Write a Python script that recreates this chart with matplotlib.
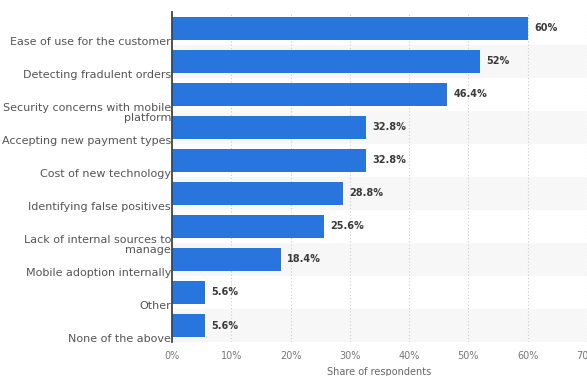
import matplotlib.pyplot as plt
import matplotlib.transforms as mtransforms

categories = [
    "Ease of use for the customer",
    "Detecting fradulent orders",
    "Security concerns with mobile\nplatform",
    "Accepting new payment types",
    "Cost of new technology",
    "Identifying false positives",
    "Lack of internal sources to\nmanage",
    "Mobile adoption internally",
    "Other",
    "None of the above",
]
values = [60, 52, 46.4, 32.8, 32.8, 28.8, 25.6, 18.4, 5.6, 5.6]
value_labels = ["60%", "52%", "46.4%", "32.8%", "32.8%", "28.8%", "25.6%", "18.4%", "5.6%", "5.6%"]
x_ticks = [0, 10, 20, 30, 40, 50, 60, 70]

fig = plt.figure(figsize=(5.87, 3.76), dpi=100)
ax = fig.add_axes([0.293, 0.0904, 0.707, 0.878])

bar_color = '#2876dd'
ypos = list(range(len(categories)))

# alternating row stripes
for i in ypos:
    if i % 2 == 1:
        ax.axhspan(i - 0.5, i + 0.5, color='#f7f7f7', zorder=0, lw=0)

ax.barh(ypos, values, height=0.7, color=bar_color, zorder=3)

ax.set_xlim(0, 70)
ax.set_ylim(len(categories) - 0.5, -0.5)

# value labels just right of bar ends
for y, v, lbl in zip(ypos, values, value_labels):
    ax.annotate(lbl, xy=(v, y), xytext=(4.5, 0), textcoords='offset points',
                ha='left', va='center', fontsize=7, fontweight='semibold', color='#3a3a3a')

# category labels sit slightly below the bar centers
trans = mtransforms.blended_transform_factory(ax.transAxes, ax.transData)
offset = mtransforms.ScaledTranslation(-1 / 100, -8.5 / 100, fig.dpi_scale_trans)
for y, cat in zip(ypos, categories):
    ax.text(0, y, cat, transform=trans + offset, ha='right', va='top',
            fontsize=8, color='#555', linespacing=0.95, multialignment='right')
ax.set_yticks([])

ax.set_xticks(x_ticks)
ax.set_xticklabels([f"{t}%" for t in x_ticks], fontsize=7, color='#777')
ax.tick_params(axis='x', length=0, pad=6.5)
ax.xaxis.grid(True, linestyle=(0, (1, 2)), color='#cccccc', lw=0.8, zorder=1)
ax.set_axisbelow(True)
ax.set_xlabel("Share of respondents", fontsize=7, color='#666', labelpad=4)

for s in ['top', 'right', 'bottom']:
    ax.spines[s].set_visible(False)
ax.spines['left'].set_color('#444')
ax.spines['left'].set_linewidth(1.3)
ax.spines['left'].set_zorder(4)

fig.savefig('out.png', dpi=100)
